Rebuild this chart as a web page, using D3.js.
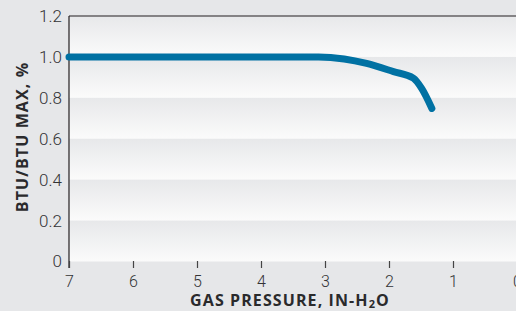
<!DOCTYPE html>
<html>
<head>
<meta charset="utf-8">
<script src="https://cdn.jsdelivr.net/npm/d3@7"></script>
<style>
body { margin: 0; background: #e6e7e9; }
svg { display: block; }
.tick text { font-family: Roboto, "Liberation Sans Narrow", sans-serif; font-weight: 300; font-size: 17px; fill: #333335; }
.xax .tick text { font-size: 16px; }
.lbl { font-family: "Open Sans", "DejaVu Sans", sans-serif; font-weight: bold; font-size: 16px; fill: #2a2a2c; letter-spacing: 1.1px; }
</style>
</head>
<body>
<svg id="chart" width="516" height="311"></svg>
<script>
// gas pressure (in-H2O) vs btu ratio
var pressure = [7, 3.1, 2.7, 2.35, 1.93, 1.62, 1.49, 1.33];
var btuRatio = [1.0, 1.0, 0.99, 0.968, 0.928, 0.896, 0.846, 0.748];
var xTicks = [7, 6, 5, 4, 3, 2, 1, 0];
var yTicks = [0, 0.2, 0.4, 0.6, 0.8, 1.0, 1.2];
var yLabels = ["0", "0.2", "0.4", "0.6", "0.8", "1.0", "1.2"];

var svg = d3.select("#chart");
var x = d3.scaleLinear().domain([7, 0]).range([69, 517]);
var y = d3.scaleLinear().domain([0, 1.2]).range([261.5, 16]);

var defs = svg.append("defs");
var grad = defs.append("linearGradient").attr("id", "band").attr("x1", 0).attr("y1", 0).attr("x2", 0).attr("y2", 1);
grad.append("stop").attr("offset", "0%").attr("stop-color", "#e7e8ea");
grad.append("stop").attr("offset", "100%").attr("stop-color", "#fbfbfb");

// shaded bands, one per 0.2 step
var bands = yTicks.slice(0, -1);
svg.append("g").selectAll("rect").data(bands).enter().append("rect")
	.attr("x", x(7)).attr("width", x(0) - x(7))
	.attr("y", function(d) { return y(d + 0.2); })
	.attr("height", function(d) { return y(d) - y(d + 0.2); })
	.attr("fill", "url(#band)");

// frame top + left
svg.append("line").attr("x1", x(7)).attr("x2", 516).attr("y1", y(1.2)).attr("y2", y(1.2))
	.attr("stroke", "#231f20").attr("stroke-width", 1.2);
svg.append("line").attr("x1", x(7)).attr("x2", x(7)).attr("y1", y(1.2)).attr("y2", 268)
	.attr("stroke", "#231f20").attr("stroke-width", 1.2);

var xAxis = d3.axisBottom(x).tickValues(xTicks).tickSize(7).tickPadding(6).tickFormat(d3.format("d"));
var gx = svg.append("g").attr("class", "xax").attr("transform", "translate(0,261)").call(xAxis);
gx.select(".domain").remove();
gx.selectAll(".tick line").attr("stroke", "#444").attr("stroke-width", 1.2);
gx.selectAll(".tick text").attr("dy", "0.8em");

var yAxis = d3.axisLeft(y).tickValues(yTicks).tickSize(0).tickPadding(7)
	.tickFormat(function(d, i) { return yLabels[i]; });
var gy = svg.append("g").attr("transform", "translate(69,0)").call(yAxis);
gy.select(".domain").remove();

var line = d3.line()
	.x(function(d, i) { return x(pressure[i]); })
	.y(function(d) { return y(d); })
	.curve(d3.curveMonotoneX);
svg.append("path").datum(btuRatio).attr("d", line)
	.attr("fill", "none").attr("stroke", "#0071a3").attr("stroke-width", 7)
	.attr("stroke-linecap", "round").attr("stroke-linejoin", "round");

var xl = svg.append("text").attr("class", "lbl").attr("x", 290).attr("y", 306).attr("text-anchor", "middle");
xl.append("tspan").text("GAS PRESSURE, IN-H");
xl.append("tspan").attr("font-size", "11px").attr("dy", 2).text("2");
xl.append("tspan").attr("dy", -2).text("O");

svg.append("text").attr("class", "lbl").attr("transform", "translate(28,137) rotate(-90)")
	.attr("text-anchor", "middle").text("BTU/BTU MAX, %");
</script>
</body>
</html>
